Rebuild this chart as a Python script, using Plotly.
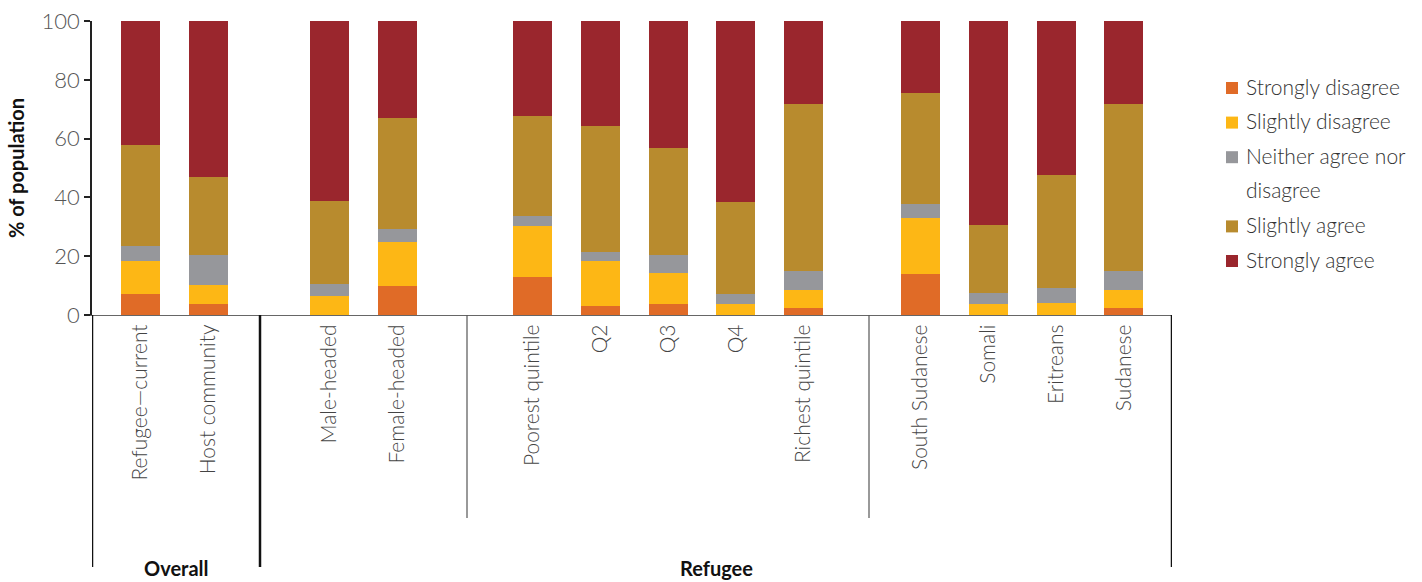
import plotly.graph_objects as go

# ---------------- data ----------------
categories = ["Refugee—current", "Host community", "Male-headed", "Female-headed",
              "Poorest quintile", "Q2", "Q3", "Q4", "Richest quintile",
              "South Sudanese", "Somali", "Eritreans", "Sudanese"]
subgroup = [0, 0, 1, 1, 2, 2, 2, 2, 2, 3, 3, 3, 3]
group_names = ["Overall", "Refugee"]

series_names = ["Strongly disagree", "Slightly disagree", "Neither agree nor disagree",
                "Slightly agree", "Strongly agree"]
strongly_disagree = [7.2, 3.8, 0.0, 10.0, 13.0, 3.2, 3.8, 0.0, 2.5, 14.0, 0.0, 0.0, 2.5]
slightly_disagree = [11.2, 6.5, 6.6, 14.9, 17.3, 15.3, 10.6, 3.8, 6.1, 19.1, 3.8, 4.2, 6.1]
neither = [5.2, 10.2, 4.0, 4.4, 3.4, 3.0, 6.1, 3.4, 6.5, 4.7, 3.8, 5.1, 6.5]
slightly_agree = [34.2, 26.5, 28.2, 37.7, 34.0, 42.8, 36.3, 31.3, 56.7, 37.7, 23.1, 38.4, 56.7]
strongly_agree = [42.2, 53.0, 61.2, 33.0, 32.3, 35.7, 43.2, 61.5, 28.2, 24.5, 69.3, 52.3, 28.2]

y_ticks = [0, 20, 40, 60, 80, 100]

# ---------------- layout / style ----------------
W, H = 1422, 582
L, R, T, B = 92, 1172, 21, 315          # plot area in pixels
SUB_START = [140.5, 329.5, 532.5, 920.5]  # first bar centre of each sub-group (x units)
STEP = 67.75
BAR_W = 39
MAJOR_SEP = [92, 260, 1172]
MINOR_SEP = [467, 869]
colors = ["#E06B27", "#FDB715", "#96979B", "#B88B2E", "#9A262D"]
FONT = "Lato"

counts = {}
xpos = []
for g in subgroup:
    k = counts.get(g, 0)
    xpos.append(SUB_START[g] + k * STEP)
    counts[g] = k + 1

values = [strongly_disagree, slightly_disagree, neither, slightly_agree, strongly_agree]

fig = go.Figure()
for name, vals, col in zip(series_names, values, colors):
    fig.add_trace(go.Bar(x=xpos, y=vals, name=name, width=BAR_W,
                         marker=dict(color=col, line=dict(width=0)),
                         showlegend=False))

def py(p):  # pixel y -> paper y
    return (B - p) / (B - T)

def px(p):  # pixel x -> paper x
    return (p - L) / (R - L)

shapes = []
for s in MAJOR_SEP:
    shapes.append(dict(type="line", xref="x", yref="paper", x0=s, x1=s,
                       y0=py(315), y1=py(567), line=dict(color="#111", width=2.5)))
for s in MINOR_SEP:
    shapes.append(dict(type="line", xref="x", yref="paper", x0=s, x1=s,
                       y0=py(315), y1=py(518), line=dict(color="#555", width=1.2)))

annotations = []
for i, gname in enumerate(group_names):
    cx = (MAJOR_SEP[i] + MAJOR_SEP[i + 1]) / 2
    annotations.append(dict(x=cx, y=py(568), xref="x", yref="paper", text=gname,
                            showarrow=False, xanchor="center", yanchor="middle",
                            font=dict(family=FONT, size=20, color="#111", weight="bold")))

# manual legend (wrapped like the original)
legend_lines = [["Strongly disagree"], ["Slightly disagree"],
                ["Neither agree nor", "disagree"], ["Slightly agree"], ["Strongly agree"]]
LEG_TOP = 88
LEG_STEP = 34.6
row = LEG_TOP
for lines, col in zip(legend_lines, colors):
    shapes.append(dict(type="rect", xref="paper", yref="paper",
                       x0=px(1226), x1=px(1238), y0=py(row + 6), y1=py(row - 6),
                       line=dict(width=0), fillcolor=col))
    for ln in lines:
        annotations.append(dict(x=px(1244), y=py(row - 2), xref="paper", yref="paper",
                                text=ln, showarrow=False, xanchor="left", yanchor="middle",
                                align="left",
                                font=dict(family=FONT, size=21, color="#333", weight=300)))
        row += LEG_STEP

fig.update_layout(
    width=W, height=H, autosize=False,
    margin=dict(l=L, r=W - R, t=T, b=H - B, pad=0, autoexpand=False),
    barmode="stack", bargap=0,
    plot_bgcolor="white", paper_bgcolor="white",
    shapes=shapes, annotations=annotations,
    xaxis=dict(range=[L, R], tickvals=xpos, ticktext=categories, tickangle=-90,
               showgrid=False, zeroline=False, showline=True, linecolor="#666",
               linewidth=1.2, ticks="", fixedrange=True, automargin=False,
               tickfont=dict(family=FONT, size=21, color="#444", weight=300)),
    yaxis=dict(range=[0, 100], tickvals=y_ticks, showgrid=False, zeroline=False,
               showline=True, linecolor="#222", linewidth=1.5, ticks="outside",
               ticklen=6, tickcolor="#222", tickwidth=1.5, automargin=False,
               tickfont=dict(family=FONT, size=22, color="#555", weight=300),
               title=dict(text="% of population", standoff=12,
                          font=dict(family=FONT, size=20, color="#111", weight="bold"))),
)

fig.write_html("out.html", config={"displayModeBar": False},
               post_script="document.body.style.margin='0';document.body.style.padding='0';")
